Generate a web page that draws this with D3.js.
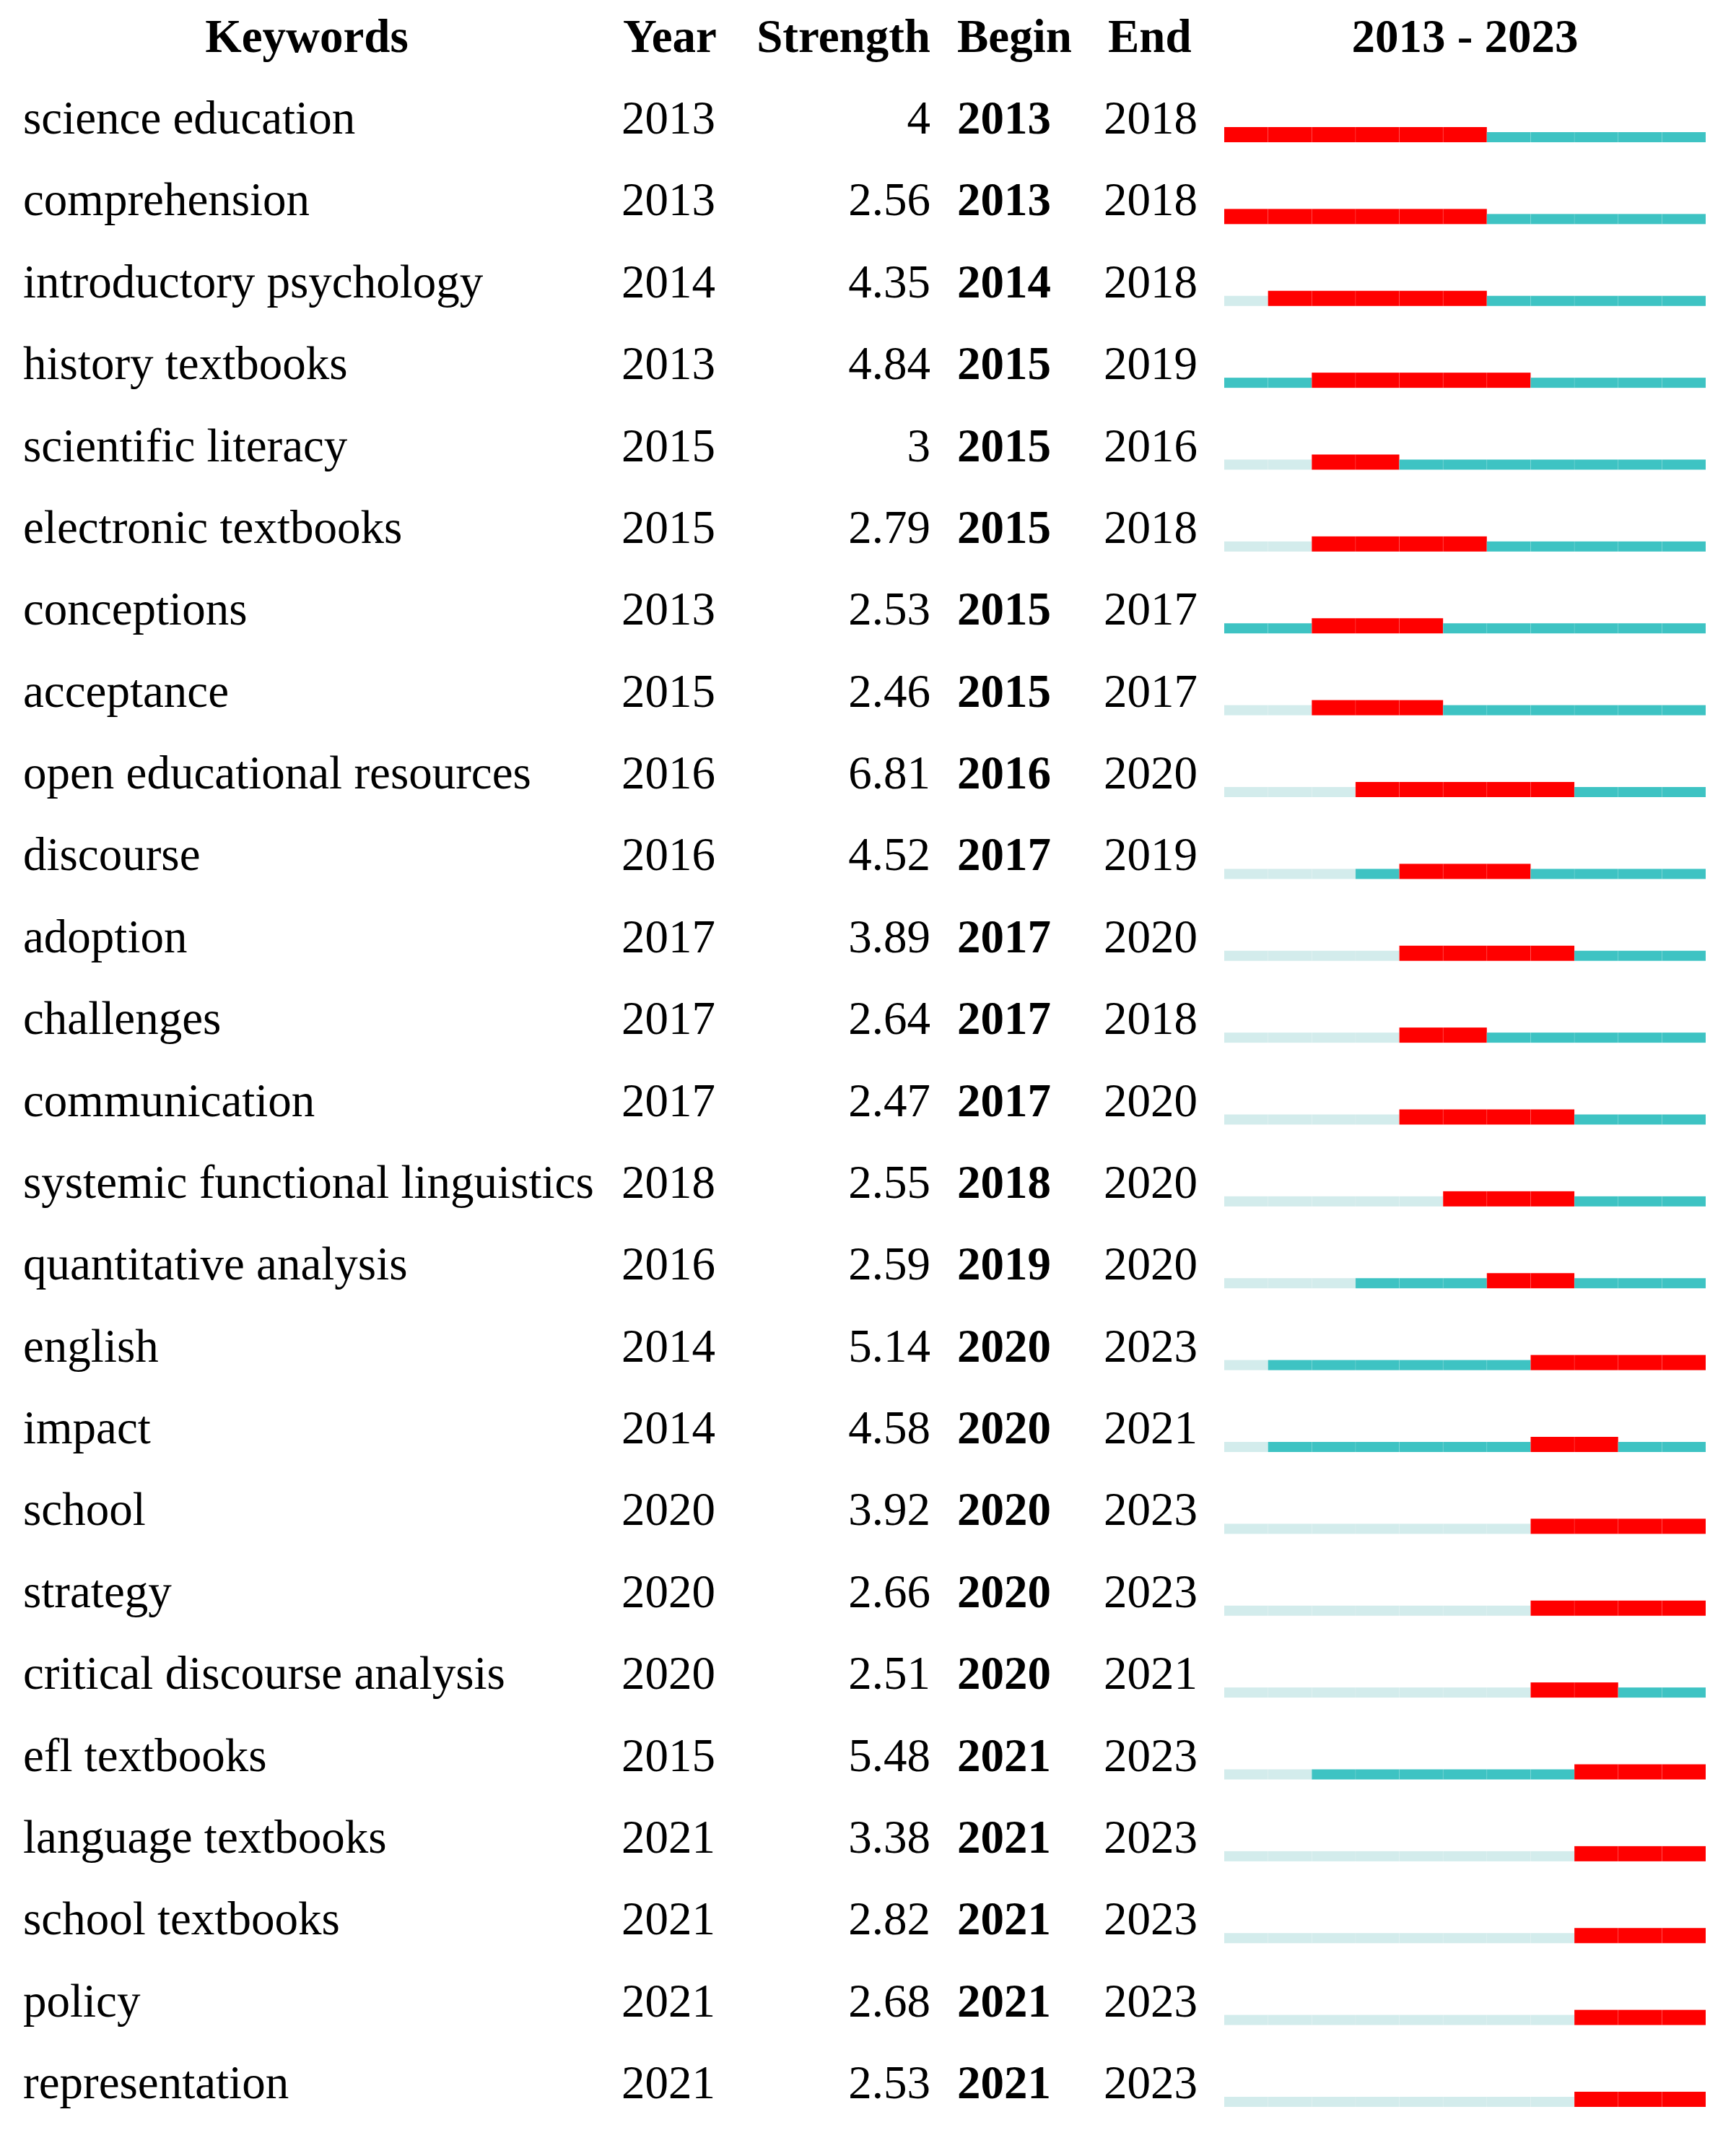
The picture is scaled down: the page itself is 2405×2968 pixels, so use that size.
<!DOCTYPE html>
<html>
<head>
<meta charset="utf-8">
<script src="https://cdn.jsdelivr.net/npm/d3@7"></script>
<style>
html, body { margin: 0; padding: 0; background: #fff; }
svg { display: block; }
text { font-family: "Liberation Serif", "Times New Roman", serif; fill: #000; }
</style>
</head>
<body>
<svg id="chart" width="2405" height="2968"></svg>
<script>
const keywords = ["science education","comprehension","introductory psychology","history textbooks","scientific literacy","electronic textbooks","conceptions","acceptance","open educational resources","discourse","adoption","challenges","communication","systemic functional linguistics","quantitative analysis","english","impact","school","strategy","critical discourse analysis","efl textbooks","language textbooks","school textbooks","policy","representation"];
const years = [2013,2013,2014,2013,2015,2015,2013,2015,2016,2016,2017,2017,2017,2018,2016,2014,2014,2020,2020,2020,2015,2021,2021,2021,2021];
const strengths = ["4","2.56","4.35","4.84","3","2.79","2.53","2.46","6.81","4.52","3.89","2.64","2.47","2.55","2.59","5.14","4.58","3.92","2.66","2.51","5.48","3.38","2.82","2.68","2.53"];
const begins = [2013,2013,2014,2015,2015,2015,2015,2015,2016,2017,2017,2017,2017,2018,2019,2020,2020,2020,2020,2020,2021,2021,2021,2021,2021];
const ends = [2018,2018,2018,2019,2016,2018,2017,2017,2020,2019,2020,2018,2020,2020,2020,2023,2021,2023,2023,2021,2023,2023,2023,2023,2023];
const headers = ["Keywords","Year","Strength","Begin","End","2013 - 2023"];
const yearStart = 2013, yearEnd = 2023;

const rows = keywords.map((k,i)=>({k, year: years[i], s: strengths[i], b: begins[i], e: ends[i]}));
const svg = d3.select("#chart");
const fs = 65;

const x = d3.scaleLinear().domain([yearStart, yearEnd + 1]).range([1696, 2363]);
const y = d3.scalePoint().domain(keywords).range([185, 2906]);

// headers
const hy = 72;
const hdr = svg.append("g").attr("font-weight", "bold").attr("font-size", fs);
hdr.append("text").attr("x", 425).attr("y", hy).attr("text-anchor", "middle").text(headers[0]);
hdr.append("text").attr("x", 863).attr("y", hy).text(headers[1]);
hdr.append("text").attr("x", 1289).attr("y", hy).attr("text-anchor", "end").text(headers[2]);
hdr.append("text").attr("x", 1326).attr("y", hy).text(headers[3]);
hdr.append("text").attr("x", 1535).attr("y", hy).text(headers[4]);
hdr.append("text").attr("x", (x.range()[0] + x.range()[1]) / 2).attr("y", hy).attr("text-anchor", "middle").text(headers[5]);

const g = svg.append("g").attr("font-size", fs);
const rg = g.selectAll("g.row").data(rows).join("g").attr("class", "row");
rg.append("text").attr("x", 32).attr("y", d => y(d.k)).text(d => d.k);
rg.append("text").attr("x", 861).attr("y", d => y(d.k)).text(d => d.year);
rg.append("text").attr("x", 1289).attr("y", d => y(d.k)).attr("text-anchor", "end").text(d => d.s);
rg.append("text").attr("x", 1326).attr("y", d => y(d.k)).attr("font-weight", "bold").text(d => d.b);
rg.append("text").attr("x", 1529).attr("y", d => y(d.k)).text(d => d.e);

// bars: one cell per year
const yrs = d3.range(yearStart, yearEnd + 1);
const light = "#d3ecec", teal = "#3ec3c3", red = "#ff0000";
rg.each(function(d) {
  const sel = d3.select(this);
  const bottom = y(d.k) + 12;
  const cells = yrs.map(yr => {
    let c = yr < d.year ? "light" : (yr >= d.b && yr <= d.e ? "red" : "teal");
    return {yr, c};
  });
  sel.selectAll("rect.cell").data(cells).join("rect")
    .attr("class", "cell")
    .attr("x", c => x(c.yr))
    .attr("width", c => x(c.yr + 1) - x(c.yr))
    .attr("y", c => c.c === "red" ? bottom - 21 : bottom - 14)
    .attr("height", c => c.c === "red" ? 21 : 14)
    .attr("fill", c => c.c === "red" ? red : (c.c === "teal" ? teal : light));
  // faint cell dividers
  sel.selectAll("line.div").data(cells.slice(1)).join("line")
    .attr("class", "div")
    .attr("x1", c => x(c.yr)).attr("x2", c => x(c.yr))
    .attr("y1", c => c.c === "red" ? bottom - 21 : bottom - 14)
    .attr("y2", bottom)
    .attr("stroke", "#ffffff").attr("stroke-opacity", 0.12).attr("stroke-width", 1);
});
</script>
</body>
</html>
